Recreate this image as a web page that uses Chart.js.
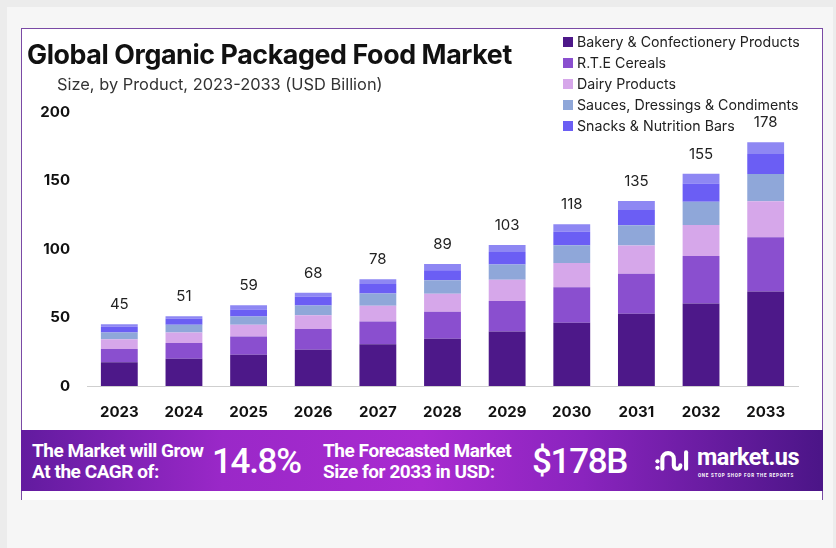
<!DOCTYPE html>
<html>
<head>
<meta charset="utf-8">
<script src="https://cdn.jsdelivr.net/npm/chart.js@4"></script>
<style>
  html, body { margin: 0; padding: 0; }
  body { width: 836px; height: 548px; background: #ececec; position: relative; overflow: hidden; font-family: Inter, "Noto Sans", sans-serif; }
  #card { position: absolute; left: 7px; top: 7px; width: 826px; height: 548px; background: #f6f6f6; }
  #panel { position: absolute; left: 21px; top: 28px; width: 802px; height: 472px; background: #fff; border: 1px solid #7a4aa5; border-bottom: none; box-sizing: border-box; }
  #chartBox { position: absolute; left: 21px; top: 28px; width: 801px; height: 402px; }
  #title { position: absolute; left: 27px; top: 38px; font-size: 26.8px; font-weight: 700; color: #111; letter-spacing: -0.4px; white-space: nowrap; }
  #subtitle { position: absolute; left: 57px; top: 74px; font-size: 16.4px; color: #333; white-space: nowrap; }
  #legend { position: absolute; left: 563px; top: 31px; }
  .leg { height: 21px; display: flex; align-items: center; font-size: 14.2px; color: #222; white-space: nowrap; }
  .leg span.box { width: 10px; height: 10px; margin-right: 4px; display: inline-block; }
  #banner { position: absolute; left: 21px; top: 430px; width: 802px; height: 61px;
    background: linear-gradient(90deg, #621b9f 0%, #9a28c8 25%, #a92bd0 50%, #8a24be 70%, #4b1587 100%); color: #fff; }
  .bt { position: absolute; font-family: Roboto, sans-serif; font-weight: 700; font-size: 19px; line-height: 21px; letter-spacing: -0.45px; white-space: nowrap; }
  .big { position: absolute; font-family: Roboto, sans-serif; font-weight: 500; font-size: 35px; letter-spacing: -1.3px; white-space: nowrap; top: 11px; }
  #logo { position: absolute; left: 634px; top: 17px; }
  #logoText { position: absolute; left: 676px; top: 13px; font-family: Roboto, sans-serif; font-weight: 700; font-size: 23.5px; letter-spacing: -0.5px; }
  #tag { position: absolute; left: 677px; top: 43px; font-family: Roboto, sans-serif; font-weight: 700; font-size: 4.5px; letter-spacing: 0.75px; }
</style>
</head>
<body>
<div id="card"></div>
<div id="panel"></div>
<div id="chartBox"><canvas id="marketChart" width="801" height="402"></canvas></div>
<div id="title">Global Organic Packaged Food Market</div>
<div id="subtitle">Size, by Product, 2023-2033 (USD Billion)</div>
<div id="legend"></div>
<div id="banner">
  <div class="bt" style="left:11px; top:10px;">The Market will Grow<br>At the CAGR of:</div>
  <div class="big" style="left:191px;">14.8%</div>
  <div class="bt" style="left:302px; top:10px;">The Forecasted Market<br>Size for 2033 in USD:</div>
  <div class="big" style="left:511px;">$178B</div>
  <svg id="logo" width="36" height="27" viewBox="0 0 44 32">
    <circle cx="3" cy="17" r="2.6" fill="#fff"/>
    <circle cx="3" cy="25" r="2.6" fill="#fff"/>
    <path d="M9 26 V14 a7 7 0 0 1 14 0 V22 a4 4 0 0 0 8 0" stroke="#fff" stroke-width="5" fill="none" stroke-linecap="round"/>
    <path d="M38 6 V26" stroke="#fff" stroke-width="5" stroke-linecap="round"/>
  </svg>
  <div id="logoText">market.us</div>
  <div id="tag">ONE STOP SHOP FOR THE REPORTS</div>
</div>

<script>
const years = ['2023', '2024', '2025', '2026', '2027', '2028', '2029', '2030', '2031', '2032', '2033'];
const totals = [45, 51, 59, 68, 78, 89, 103, 118, 135, 155, 178];

const bakery = [17.3, 19.8, 22.9, 26.4, 30.5, 34.4, 39.8, 46.2, 52.8, 60.2, 69.0];
const rteCereals = [9.7, 11.5, 13.2, 15.2, 16.5, 19.8, 22.2, 25.8, 29.2, 34.6, 39.5];
const dairy = [7.1, 7.8, 8.6, 10.0, 11.6, 13.2, 15.5, 17.7, 20.6, 22.8, 26.4];
const sauces = [5.0, 5.6, 6.1, 7.1, 8.9, 9.7, 11.1, 13.0, 14.7, 16.9, 19.8];
const snacks = [4.2, 4.3, 5.0, 6.5, 7.0, 7.3, 9.2, 9.9, 11.1, 13.3, 14.6];
const others = [1.7, 2.0, 3.2, 2.8, 3.5, 4.6, 5.2, 5.4, 6.6, 7.2, 8.7];

const yTicks = [0, 50, 100, 150, 200];

const series = [
    { label: 'Bakery & Confectionery Products', data: bakery, color: '#4d1889', legend: true },
    { label: 'R.T.E Cereals', data: rteCereals, color: '#8a4fcf', legend: true },
    { label: 'Dairy Products', data: dairy, color: '#d6a7ea', legend: true },
    { label: 'Sauces, Dressings & Condiments', data: sauces, color: '#8fa7d9', legend: true },
    { label: 'Snacks & Nutrition Bars', data: snacks, color: '#6b5ef4', legend: true },
    { label: 'Others', data: others, color: '#8e87f3', legend: false }
];

// html legend
const legendEl = document.getElementById('legend');
series.filter(s => s.legend).forEach(s => {
    const row = document.createElement('div');
    row.className = 'leg';
    row.innerHTML = `<span class="box" style="background:${s.color}"></span>${s.label}`;
    legendEl.appendChild(row);
});

// totals above each bar
const totalLabels = {
    id: 'totalLabels',
    afterDatasetsDraw(chart) {
        const ctx = chart.ctx;
        const meta = chart.getDatasetMeta(chart.data.datasets.length - 1);
        ctx.save();
        ctx.font = '15px Inter, "Noto Sans", sans-serif';
        ctx.fillStyle = '#222';
        ctx.textAlign = 'center';
        ctx.textBaseline = 'alphabetic';
        meta.data.forEach((bar, i) => {
            ctx.fillText(totals[i], bar.x, bar.y - 15);
        });
        ctx.restore();
    }
};

const ctx = document.getElementById('marketChart').getContext('2d');
new Chart(ctx, {
    type: 'bar',
    data: {
        labels: years,
        datasets: series.map(s => ({
            label: s.label,
            data: s.data,
            backgroundColor: s.color,
            borderWidth: 0
        }))
    },
    options: {
        responsive: false,
        animation: false,
        layout: { padding: { top: 84, right: 24, bottom: 0, left: 0 } },
        plugins: {
            legend: { display: false },
            title: { display: false },
            tooltip: { enabled: false }
        },
        datasets: { bar: { categoryPercentage: 1, barPercentage: 0.57 } },
        scales: {
            x: {
                stacked: true,
                grid: { display: false },
                border: { display: true, color: '#cfcfcf', width: 1 },
                ticks: { color: '#111', padding: 9, font: { family: 'Inter', size: 15, weight: 'bold' } }
            },
            y: {
                stacked: true,
                min: 0,
                max: 200,
                afterBuildTicks: axis => { axis.ticks = yTicks.map(v => ({ value: v })); },
                afterFit: axis => { axis.width = 66; },
                grid: { display: false },
                border: { display: false },
                ticks: { color: '#111', padding: 9, font: { family: 'Inter', size: 15, weight: 'bold' } }
            }
        }
    },
    plugins: [totalLabels]
});
</script>
</body>
</html>
